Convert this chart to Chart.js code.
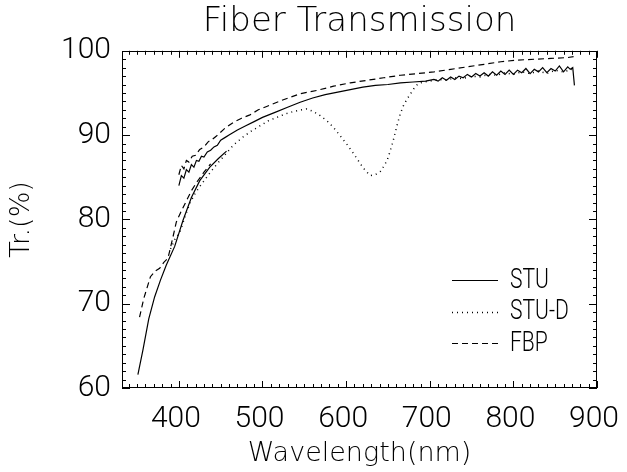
<!DOCTYPE html>
<html><head><meta charset="utf-8">
<style>html,body{margin:0;padding:0;background:#fff;overflow:hidden;}</style>
<script src="https://cdn.jsdelivr.net/npm/chart.js@4.4.1/dist/chart.umd.min.js"></script>
</head><body>
<canvas id="c" width="627" height="472"></canvas>
<script>
// ---- chart text ----
const chartTitle = 'Fiber Transmission';
const xTitle = 'Wavelength(nm)';
const yTitle = 'Tr.(%)';
const seriesNames = ['STU', 'STU-D', 'FBP'];

// ---- tick labels ----
const wavelengthTicks = [400, 500, 600, 700, 800, 900];
const transmissionTicks = [60, 70, 80, 90, 100];

// ---- STU (solid): UV segment + visible segment ----
const stuUvWl = [351, 357, 364, 371, 378, 385, 395, 405, 415, 425, 437, 447, 457];
const stuUvTr = [61.6, 64.5, 68.2, 70.8, 72.8, 74.6, 76.8, 79.9, 82.6, 84.6, 86.2, 87.2, 88.1];
const stuVisWl = [400, 403, 406, 409, 412, 415, 418, 421, 424, 427, 430, 434, 438, 442, 446, 450, 455, 460, 470, 480, 490, 500, 515, 530, 545, 560, 575, 590, 605, 620, 635, 650, 665, 680, 695, 705, 710, 715, 720, 725, 730, 735, 740, 745, 750, 755, 760, 765, 770, 775, 780, 785, 790, 795, 800, 805, 810, 815, 820, 825, 830, 835, 840, 845, 850, 855, 860, 865, 868, 871, 873];
const stuVisTr = [84.0, 85.2, 84.9, 85.9, 85.6, 86.5, 86.2, 87.0, 86.9, 87.5, 87.4, 88.0, 88.2, 88.6, 88.8, 89.4, 89.7, 90.0, 90.6, 91.1, 91.6, 92.1, 92.7, 93.3, 93.9, 94.4, 94.8, 95.1, 95.4, 95.7, 95.9, 96.0, 96.2, 96.3, 96.4, 96.6, 96.4, 96.8, 96.5, 96.9, 96.6, 97.0, 96.8, 97.2, 96.9, 97.3, 97.0, 97.4, 97.0, 97.5, 97.1, 97.6, 97.2, 97.7, 97.2, 97.7, 97.4, 97.9, 97.3, 97.8, 97.5, 98.0, 97.4, 97.9, 97.6, 98.2, 97.5, 98.1, 97.8, 98.0, 95.9];

// ---- STU-D (dotted) ----
const stuDWl = [390, 396, 401, 407, 413, 419, 425, 431, 437, 445, 453, 465, 477, 487, 497, 507, 517, 527, 537, 547, 553, 561, 569, 577, 585, 593, 601, 609, 617, 623, 629, 635, 641, 645, 649, 653, 657, 661, 665, 669, 673, 677, 681, 686, 692, 700, 710, 720, 730, 740, 750, 760, 770, 780, 790, 800, 810, 820, 830, 840, 850, 860, 870];
const stuDTr = [76.5, 77.8, 78.4, 80.2, 81.9, 83.0, 83.9, 84.7, 85.5, 86.5, 87.4, 88.8, 89.8, 90.5, 91.1, 91.7, 92.1, 92.5, 92.8, 93.0, 93.1, 92.8, 92.3, 91.7, 90.9, 89.9, 88.9, 87.8, 86.6, 85.8, 85.2, 85.3, 85.7, 86.3, 87.0, 88.2, 89.6, 91.2, 92.6, 93.6, 94.3, 94.9, 95.5, 96.1, 96.3, 96.4, 96.6, 96.5, 96.8, 96.7, 97.0, 96.9, 97.2, 97.1, 97.4, 97.2, 97.5, 97.3, 97.6, 97.3, 97.7, 97.5, 97.8];

// ---- FBP (dashed): UV segment + visible segment ----
const fbpUvWl = [353, 358, 366, 372, 377, 382, 387, 392, 397, 402, 408, 415, 422, 430, 438];
const fbpUvTr = [68.4, 70.6, 73.2, 73.9, 74.2, 74.9, 75.4, 77.5, 79.7, 80.8, 82.0, 83.4, 84.5, 85.6, 86.6];
const fbpVisWl = [400, 403, 406, 409, 412, 416, 420, 425, 430, 435, 440, 445, 455, 465, 475, 485, 495, 505, 525, 545, 565, 585, 605, 625, 645, 665, 685, 705, 725, 745, 765, 785, 805, 825, 845, 865, 872];
const fbpVisTr = [85.3, 86.4, 86.0, 87.0, 86.8, 87.5, 87.6, 88.3, 88.6, 89.2, 89.5, 89.9, 90.8, 91.5, 92.0, 92.4, 93.0, 93.4, 94.2, 94.9, 95.3, 95.8, 96.2, 96.5, 96.8, 97.1, 97.3, 97.5, 97.8, 98.1, 98.4, 98.7, 98.9, 99.0, 99.1, 99.2, 99.3];

function pts(wl, tr) { return wl.map((x, i) => ({x: x, y: tr[i]})); }
function joinSegs(...segs) {
  const out = [];
  segs.forEach((s, k) => { if (k > 0) out.push({x: s[0].x, y: null}); out.push(...s); });
  return out;
}

const datasets = [
  {label: seriesNames[0], data: joinSegs(pts(stuUvWl, stuUvTr), pts(stuVisWl, stuVisTr)), borderColor: '#000', borderWidth: 1.2, borderDash: []},
  {label: seriesNames[1], data: pts(stuDWl, stuDTr), borderColor: '#000', borderWidth: 1.5, borderDash: [1, 4]},
  {label: seriesNames[2], data: joinSegs(pts(fbpUvWl, fbpUvTr), pts(fbpVisWl, fbpVisTr)), borderColor: '#000', borderWidth: 1.2, borderDash: [6, 4]}
];

const frameTicks = {
  id: 'frameTicks',
  afterDatasetsDraw(chart) {
    const {ctx, chartArea: a, scales: {x, y}} = chart;
    ctx.save();
    ctx.strokeStyle = '#000';
    ctx.lineWidth = 1;
    ctx.strokeRect(Math.round(a.left) + 0.5, Math.round(a.top) + 0.5, Math.round(a.right - a.left) - 1, Math.round(a.bottom - a.top) - 1);
    ctx.beginPath();
    for (let v = 340; v <= 900; v += 10) {
      const px = Math.round(x.getPixelForValue(v)) + 0.5;
      const len = (v % 100 === 0) ? 7 : 4;
      ctx.moveTo(px, a.bottom); ctx.lineTo(px, a.bottom - len);
      ctx.moveTo(px, a.top); ctx.lineTo(px, a.top + len);
    }
    for (let v = 60; v <= 100; v += 1) {
      const py = Math.round(y.getPixelForValue(v)) + 0.5;
      const len = (v % 10 === 0) ? 8 : 4;
      ctx.moveTo(a.left, py); ctx.lineTo(a.left + len, py);
      ctx.moveTo(a.right, py); ctx.lineTo(a.right - len, py);
    }
    ctx.stroke();
    ctx.restore();
  }
};

const innerLegend = {
  id: 'innerLegend',
  afterDraw(chart) {
    const {ctx, chartArea: a} = chart;
    ctx.save();
    chart.data.datasets.forEach((ds, i) => {
      const yy = a.bottom - 108 + i * 31.5;
      const x0 = a.right - 145, x1 = a.right - 99;
      ctx.strokeStyle = '#000';
      ctx.lineWidth = ds.borderWidth;
      ctx.setLineDash(ds.borderDash || []);
      ctx.beginPath(); ctx.moveTo(x0, Math.round(yy) + 0.5); ctx.lineTo(x1, Math.round(yy) + 0.5); ctx.stroke();
      ctx.setLineDash([]);
      ctx.fillStyle = '#000';
      ctx.font = '300 27px Roboto, "Liberation Sans", Arial, sans-serif';
      ctx.textBaseline = 'middle';
      ctx.textAlign = 'left';
      ctx.save();
      ctx.translate(a.right - 87, yy + 1);
      ctx.scale(0.78, 1);
      ctx.fillText(ds.label, 0, 0);
      ctx.restore();
    });
    ctx.restore();
  }
};

new Chart(document.getElementById('c').getContext('2d'), {
  type: 'line',
  data: {datasets: datasets},
  plugins: [frameTicks, innerLegend],
  options: {
    responsive: false,
    animation: false,
    devicePixelRatio: 1,
    parsing: true,
    spanGaps: false,
    elements: {point: {radius: 0, hoverRadius: 0}, line: {tension: 0, borderCapStyle: 'butt'}},
    layout: {padding: {left: 0, right: 30, top: 0, bottom: 0}},
    plugins: {
      legend: {display: false},
      tooltip: {enabled: false},
      title: {
        display: true, text: chartTitle, color: '#000', fullSize: false,
        font: {family: '"DejaVu Sans", sans-serif', size: 34, weight: 200, lineHeight: 1.2},
        padding: {top: 2, bottom: 8}
      }
    },
    scales: {
      x: {
        type: 'linear', min: 332, max: 900,
        afterBuildTicks: s => { s.ticks = wavelengthTicks.map(v => ({value: v})); },
        afterFit: s => { s.height = 84; s.paddingRight = 0; s.paddingLeft = 0; },
        grid: {display: false, drawTicks: false},
        border: {display: false},
        ticks: {color: '#000', maxRotation: 0, autoSkip: false, padding: 13, labelOffset: -3,
          font: {family: 'Roboto, "Liberation Sans", Arial, sans-serif', size: 30, weight: 300}},
        title: {display: true, text: xTitle, color: '#000', padding: {top: 0, bottom: 2},
          font: {family: '"DejaVu Sans", sans-serif', size: 27, weight: 200, lineHeight: 1.2}}
      },
      y: {
        type: 'linear', min: 60, max: 100,
        afterBuildTicks: s => { s.ticks = transmissionTicks.map(v => ({value: v})); },
        afterFit: s => { s.width = 122; },
        grid: {display: false, drawTicks: false},
        border: {display: false},
        ticks: {color: '#000', autoSkip: false, padding: 11,
          font: {family: 'Roboto, "Liberation Sans", Arial, sans-serif', size: 30, weight: 300}},
        title: {display: true, text: yTitle, color: '#000', padding: {top: 6, bottom: 0},
          font: {family: '"DejaVu Sans", sans-serif', size: 27, weight: 200, lineHeight: 1.2}}
      }
    }
  }
});
</script>
</body></html>
